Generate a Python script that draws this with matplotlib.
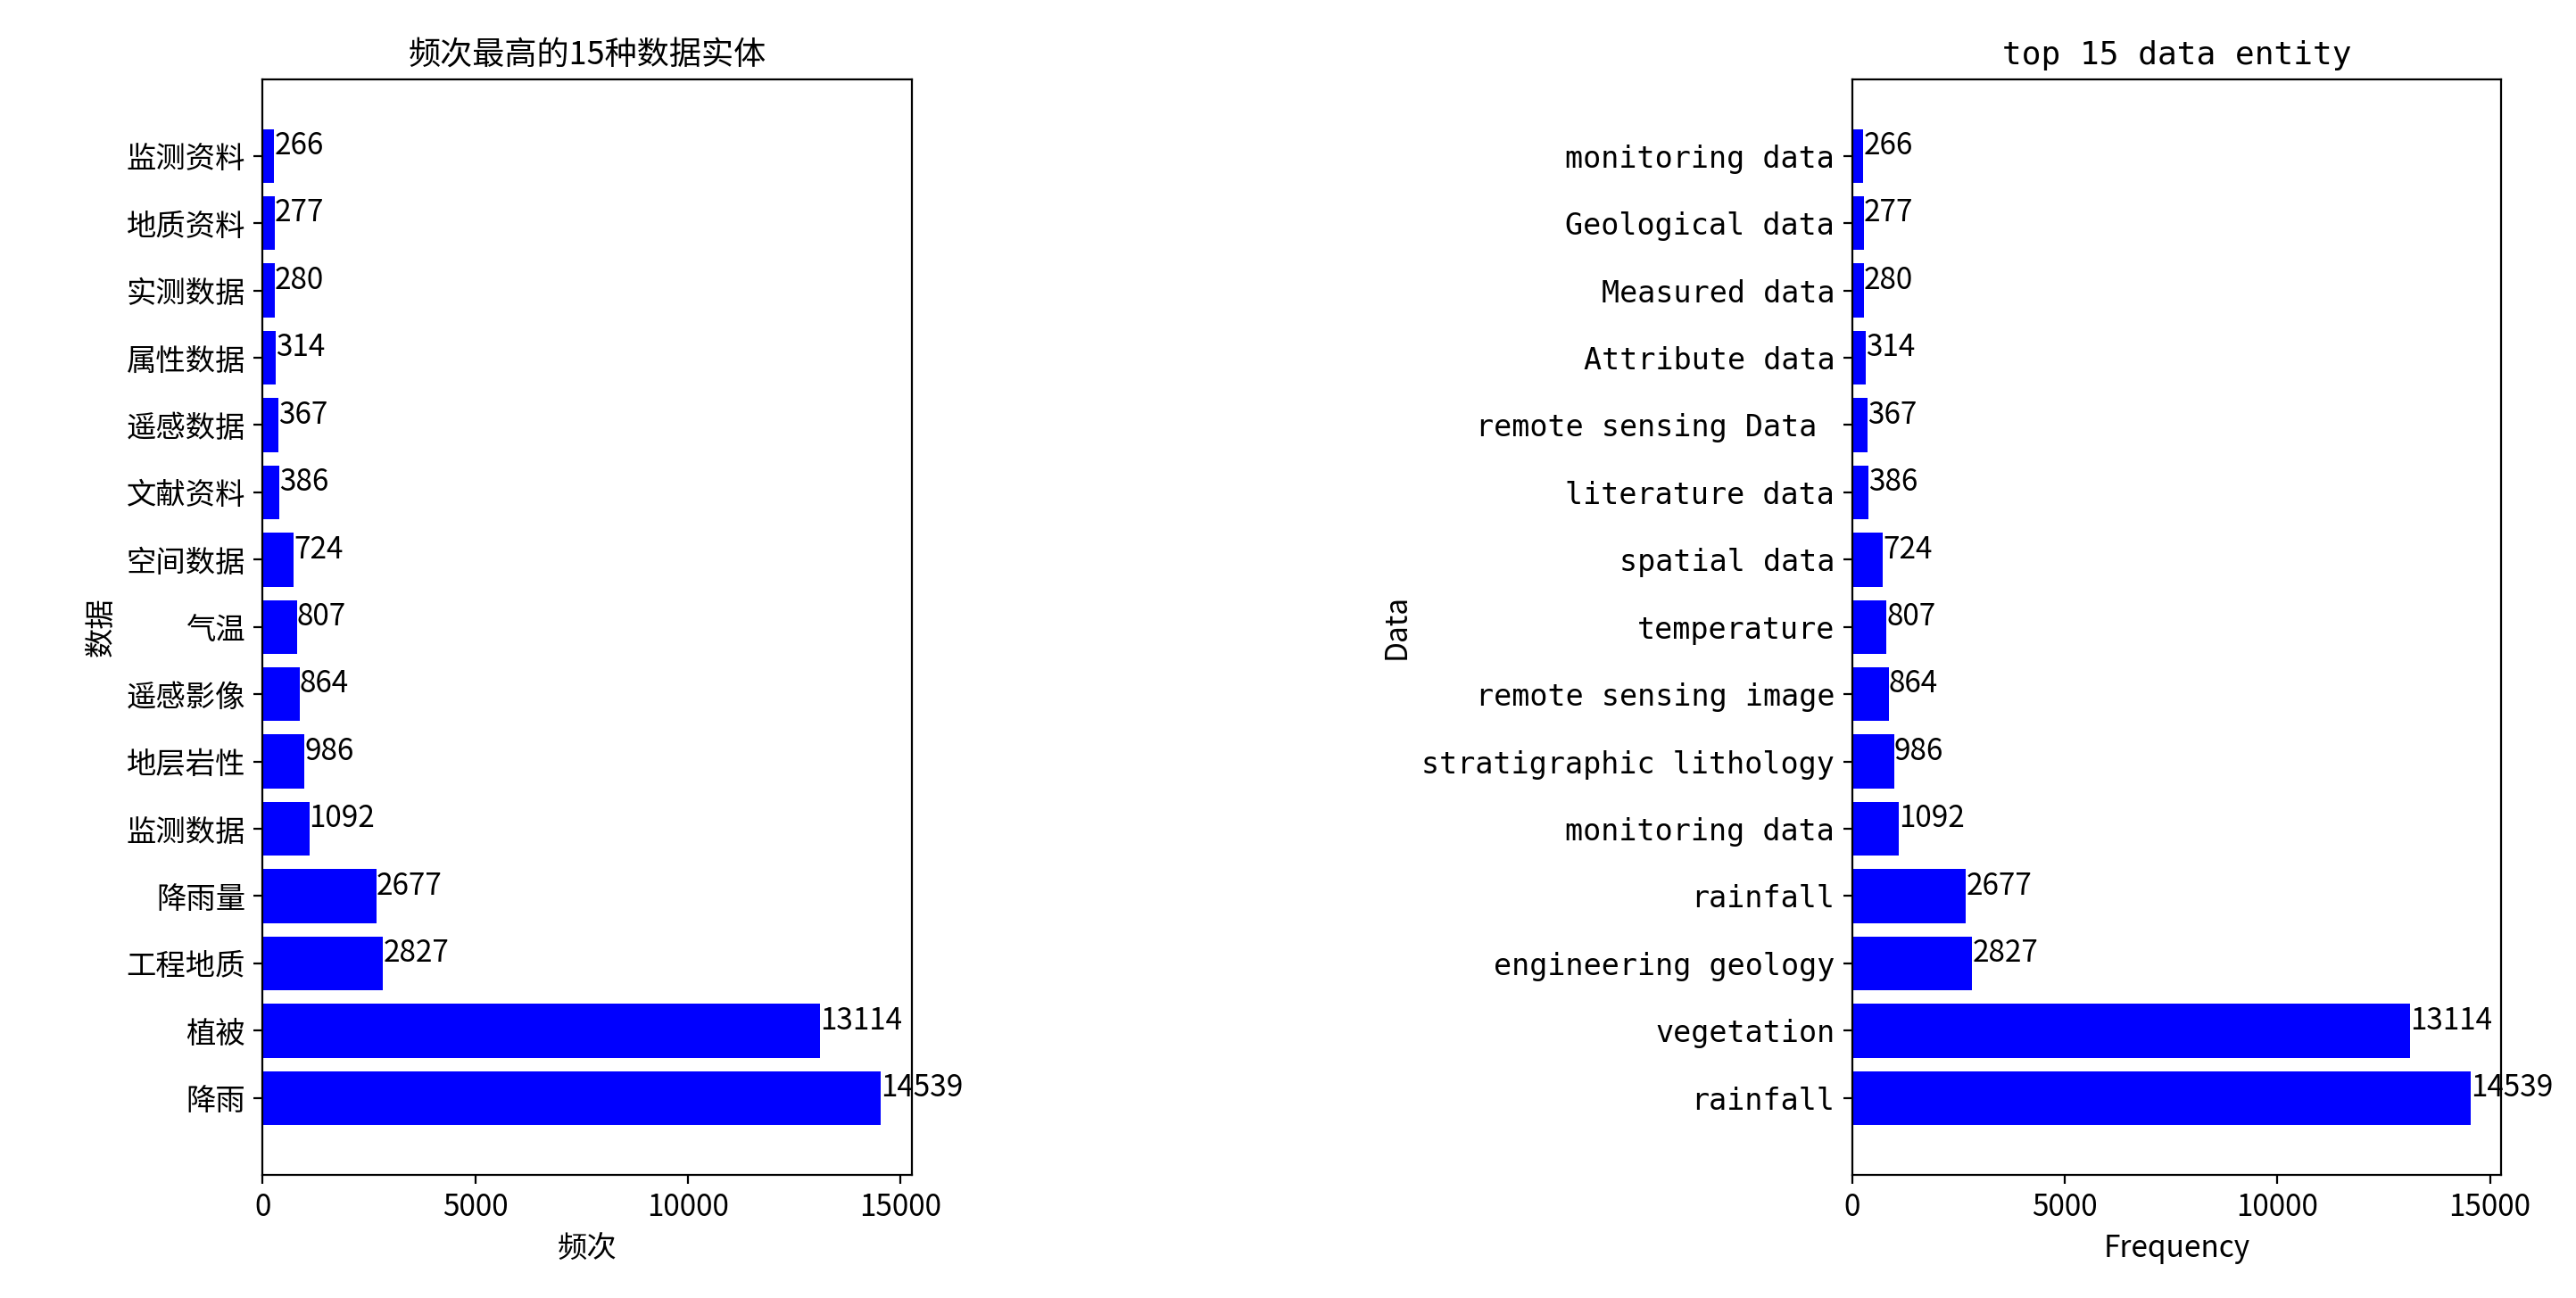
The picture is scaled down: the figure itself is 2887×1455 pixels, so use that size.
import matplotlib
matplotlib.use("Agg")
import matplotlib.pyplot as plt

cn_labels = ["降雨", "植被", "工程地质", "降雨量", "监测数据", "地层岩性", "遥感影像", "气温",
             "空间数据", "文献资料", "遥感数据", "属性数据", "实测数据", "地质资料", "监测资料"]
en_labels = ["rainfall", "vegetation", "engineering geology", "rainfall", "monitoring data",
             "stratigraphic lithology", "remote sensing image", "temperature", "spatial data",
             "literature data", "remote sensing Data ", "Attribute data", "Measured data",
             "Geological data", "monitoring data"]
values = [14539, 13114, 2827, 2677, 1092, 986, 864, 807, 724, 386, 367, 314, 280, 277, 266]

plt.rcParams['font.family'] = ['Noto Sans CJK SC', 'DejaVu Sans']
fs = 12
fig = plt.figure(figsize=(14.435, 7.275), dpi=200)
ax1 = fig.add_axes([0.102, 0.095, 0.252, 0.844])
ax2 = fig.add_axes([0.719, 0.095, 0.252, 0.844])

for ax, labels, title, xl, yl in [
    (ax1, cn_labels, "频次最高的15种数据实体", "频次", "数据"),
    (ax2, en_labels, "top 15 data entity", "Frequency", "Data")]:
    y = list(range(len(values)))
    ax.barh(y, values, color="blue")
    ax.set_yticks(y)
    if ax is ax2:
        ax.set_yticklabels(labels, fontsize=fs, family=['DejaVu Sans Mono'])
        ax.set_title(title, fontsize=fs + 1, family=['DejaVu Sans Mono'])
    else:
        ax.set_yticklabels(labels, fontsize=fs)
        ax.set_title(title, fontsize=fs + 1)
    for i, v in enumerate(values):
        ax.text(v, i + 0.15, str(v), ha="left", va="center", fontsize=fs)
    ax.set_xticks([0, 5000, 10000, 15000])
    ax.tick_params(axis='x', labelsize=fs)
    ax.set_xlabel(xl, fontsize=fs)
    ax.set_ylabel(yl, fontsize=fs)

fig.savefig("out.png", dpi=200)
